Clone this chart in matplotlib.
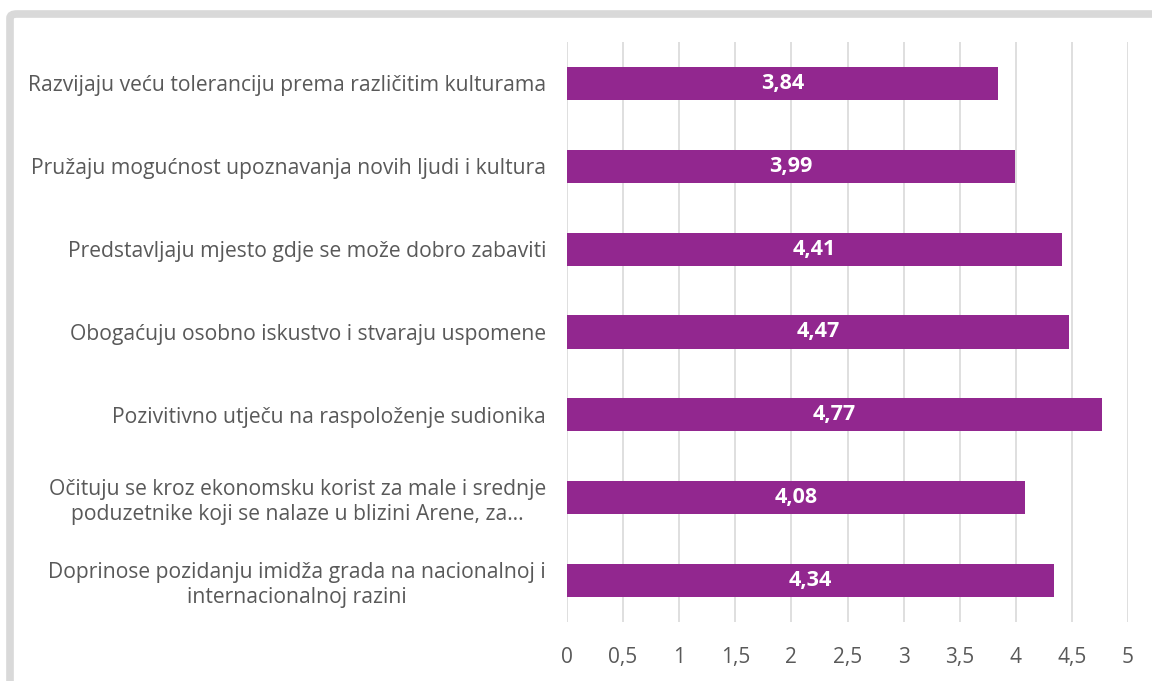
import matplotlib.pyplot as plt
from matplotlib.patches import FancyBboxPatch

# data, top to bottom as shown
categories = [
    "Razvijaju veću toleranciju prema različitim kulturama",
    "Pružaju mogućnost upoznavanja novih ljudi i kultura",
    "Predstavljaju mjesto gdje se može dobro zabaviti",
    "Obogaćuju osobno iskustvo i stvaraju uspomene",
    "Pozivitivno utječu na raspoloženje sudionika",
    "Očituju se kroz ekonomsku korist za male i srednje\npoduzetnike koji se nalaze u blizini Arene, za…",
    "Doprinose pozidanju imidža grada na nacionalnoj i\ninternacionalnoj razini",
]
values = [3.84, 3.99, 4.41, 4.47, 4.77, 4.08, 4.34]
xticks = [0, 0.5, 1, 1.5, 2, 2.5, 3, 3.5, 4, 4.5, 5]

BAR = "#92278F"
TXT = "#595959"
GRID = "#D9D9D9"

plt.rcParams["font.family"] = ["Open Sans", "DejaVu Sans"]

fig = plt.figure(figsize=(11.52, 6.81), dpi=100)

# light grey frame of the chart area (runs off right/bottom edge)
frame = FancyBboxPatch((10 / 1152, -0.05), 1.2, 1 - 14 / 681 + 0.05,
                       boxstyle="round,pad=0,rounding_size=0.006",
                       transform=fig.transFigure, fill=False,
                       edgecolor=GRID, linewidth=5.5, zorder=0)
fig.patches.append(frame)

ax = fig.add_axes([567 / 1152, 59 / 681, 561 / 1152, 580 / 681])

pos = list(range(len(categories)))[::-1]
bars = ax.barh(pos, values, height=0.4, color=BAR, zorder=3)
for b, v in zip(bars, values):
    ax.text(v / 2, b.get_y() + b.get_height() / 2, f"{v:.2f}".replace(".", ","),
            ha="center", va="center", color="white", fontsize=15.5,
            fontweight="bold", zorder=4)

ax.set_xlim(0, 5)
ax.set_ylim(-0.5, len(categories) - 0.5)
ax.set_xticks(xticks)
ax.set_xticklabels([f"{t:g}".replace(".", ",") for t in xticks],
                   fontsize=15, color=TXT)
ax.set_yticks(pos)
ax.set_yticklabels(categories, fontsize=15.2, color=TXT,
                   multialignment="center", linespacing=1.25)
ax.tick_params(axis="both", length=0)
ax.tick_params(axis="x", pad=18)
ax.tick_params(axis="y", pad=15)
ax.grid(axis="x", color=GRID, linewidth=1.2, zorder=0)
for s in ax.spines.values():
    s.set_visible(False)

fig.savefig("out.png", dpi=100)
